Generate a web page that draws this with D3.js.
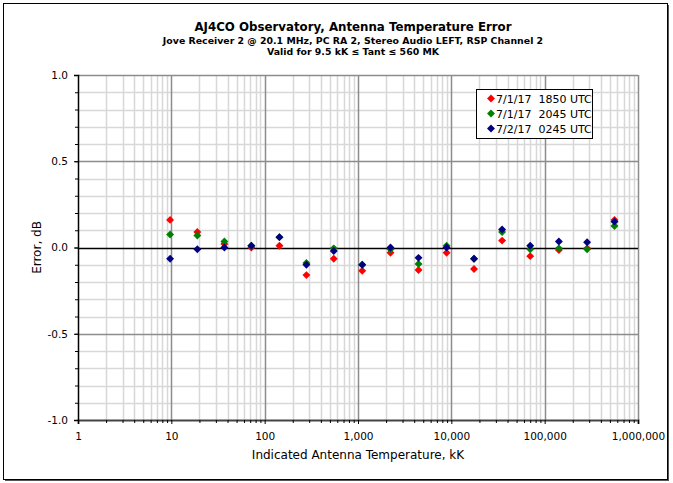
<!DOCTYPE html>
<html>
<head>
<meta charset="utf-8">
<script src="https://cdn.jsdelivr.net/npm/d3@7"></script>
<style>
  body { margin: 0; background: #fff; }
  text { font-family: "DejaVu Sans", Verdana, sans-serif; }
</style>
</head>
<body>
<svg id="chart" width="673" height="483"></svg>
<script>
// temperatures (kK) and errors (dB)
const temps = [9.7, 19, 37, 72, 144, 280, 550, 1110, 2230, 4450, 8900, 17500, 35000, 70000, 142000, 285000, 560000];
const err1850 = [0.16, 0.09, 0.02, 0.00, 0.01, -0.16, -0.065, -0.135, -0.03, -0.13, -0.03, -0.125, 0.04, -0.05, -0.015, -0.005, 0.16];
const err2045 = [0.075, 0.07, 0.035, 0.01, 0.06, -0.09, -0.005, -0.10, -0.01, -0.095, 0.01, -0.065, 0.09, -0.01, -0.005, -0.01, 0.125];
const err0245 = [-0.065, -0.01, 0.00, 0.01, 0.06, -0.10, -0.02, -0.10, 0.00, -0.06, 0.00, -0.065, 0.105, 0.01, 0.035, 0.03, 0.15];
const seriesNames = ["7/1/17  1850 UTC", "7/1/17  2045 UTC", "7/2/17  0245 UTC"];
const colors = ["#ff0000", "#008000", "#000080"];
const xTicks = [1, 10, 100, 1000, 10000, 100000, 1000000];
const yTicks = [-1.0, -0.5, 0.0, 0.5, 1.0];

const svg = d3.select("#chart");
const pLeft = 78, pRight = 638, pTop = 75, pBottom = 420;

var x = d3.scaleLog().domain([1, 1000000]).range([pLeft, pRight]);
var y = d3.scaleLinear().domain([-1, 1]).range([pBottom, pTop]);

// outer frame
svg.append("rect").attr("x", 5).attr("y", 5).attr("width", 664).attr("height", 476).attr("fill", "#555");
svg.append("rect").attr("x", 3.5).attr("y", 3.5).attr("width", 664).attr("height", 476)
  .attr("fill", "#fff").attr("stroke", "#000");

// minor grid
var minorX = [];
for (let e = 0; e < 6; e++) for (let m = 2; m <= 9; m++) minorX.push(m * Math.pow(10, e));
var minorY = d3.range(-10, 11).map((d) => d / 10).filter((d) => Math.abs(d * 2 - Math.round(d * 2)) > 0.01);

const grid = svg.append("g");
grid.selectAll(".mx").data(minorX).join("line")
  .attr("x1", (d) => Math.round(x(d)) + 0.5).attr("x2", (d) => Math.round(x(d)) + 0.5)
  .attr("y1", pTop).attr("y2", pBottom).attr("stroke", "#d8d8d8").attr("stroke-width", 1.5);
grid.selectAll(".my").data(minorY).join("line")
  .attr("y1", (d) => Math.round(y(d)) + 0.5).attr("y2", (d) => Math.round(y(d)) + 0.5)
  .attr("x1", pLeft).attr("x2", pRight).attr("stroke", "#d8d8d8").attr("stroke-width", 1.5);
grid.selectAll(".Mx").data(xTicks.slice(1)).join("line")
  .attr("x1", (d) => Math.round(x(d)) + 0.5).attr("x2", (d) => Math.round(x(d)) + 0.5)
  .attr("y1", pTop).attr("y2", pBottom).attr("stroke", "#8c8c8c").attr("stroke-width", 1.5);
grid.selectAll(".My").data(yTicks.filter((d) => d !== 0 && d !== -1)).join("line")
  .attr("y1", (d) => Math.round(y(d)) + 0.5).attr("y2", (d) => Math.round(y(d)) + 0.5)
  .attr("x1", pLeft).attr("x2", pRight).attr("stroke", "#8c8c8c").attr("stroke-width", 1.5);
// zero line
grid.append("line").attr("x1", pLeft).attr("x2", pRight)
  .attr("y1", Math.round(y(0)) + 0.5).attr("y2", Math.round(y(0)) + 0.5)
  .attr("stroke", "#000").attr("stroke-width", 1.5);

// axes
var xAxis = d3.axisBottom(x).tickValues(xTicks).tickSize(4).tickPadding(9)
  .tickFormat(d3.format(","));
svg.append("g").attr("transform", `translate(0,${pBottom})`).call(xAxis)
  .call((g) => g.select(".domain").attr("stroke", "#444").attr("stroke-width", 2))
  .call((g) => g.selectAll("text").attr("font-size", 10.5).attr("fill", "#000"));
var xMinorAxis = d3.axisBottom(x).tickValues(minorX).tickSize(3).tickFormat("");
svg.append("g").attr("transform", `translate(0,${pBottom})`).call(xMinorAxis)
  .call((g) => g.select(".domain").remove())
  .call((g) => g.selectAll("line").attr("stroke", "#000"));

var yAxis = d3.axisLeft(y).tickValues(yTicks).tickSize(4).tickPadding(6)
  .tickFormat(d3.format(".1f"));
svg.append("g").attr("transform", `translate(${pLeft},0)`).call(yAxis)
  .call((g) => g.select(".domain").attr("stroke", "#000").attr("stroke-width", 1.5))
  .call((g) => g.selectAll("text").attr("font-size", 10.5).attr("fill", "#000")
    .text((d) => d3.format(".1f")(d).replace("−", "-")));
var yMinorAxis = d3.axisLeft(y).tickValues(d3.range(-10, 11).map((d) => d / 10)).tickSize(3).tickFormat("");
svg.append("g").attr("transform", `translate(${pLeft},0)`).call(yMinorAxis)
  .call((g) => g.select(".domain").remove())
  .call((g) => g.selectAll("line").attr("stroke", "#000"));

// points
const series = [err1850, err2045, err0245];
var diamond = d3.symbol().type(d3.symbolDiamond2).size(40);
series.forEach((vals, i) => {
  svg.append("g").selectAll("path")
    .data(vals.map((v, j) => [temps[j], v]))
    .join("path")
    .attr("transform", (d) => `translate(${x(d[0])},${y(d[1])})`)
    .attr("d", diamond)
    .attr("fill", colors[i]);
});

// legend
const legend = svg.append("g").attr("transform", "translate(476,89)");
legend.append("rect").attr("x", 0.5).attr("y", 0.5).attr("width", 116).attr("height", 49)
  .attr("fill", "#fff").attr("stroke", "#000");
var bandScale = d3.scaleBand().domain(seriesNames).range([2, 47]);
legend.selectAll("path").data(seriesNames).join("path")
  .attr("transform", (d) => `translate(15,${bandScale(d) + bandScale.bandwidth() / 2})`)
  .attr("d", diamond).attr("fill", (d, i) => colors[i]);
legend.selectAll("text").data(seriesNames).join("text")
  .attr("x", 20).attr("y", (d) => bandScale(d) + bandScale.bandwidth() / 2 + 4)
  .attr("font-size", 11).style("white-space", "pre")
  .text((d) => d);

// titles
const cx = 353;
svg.append("text").attr("x", cx).attr("y", 31).attr("text-anchor", "middle")
  .attr("font-size", 11.8).attr("font-weight", "bold").text("AJ4CO Observatory, Antenna Temperature Error");
svg.append("text").attr("x", cx).attr("y", 43.5).attr("text-anchor", "middle")
  .attr("font-size", 9.4).attr("font-weight", "bold")
  .text("Jove Receiver 2 @ 20.1 MHz, PC RA 2, Stereo Audio LEFT, RSP Channel 2");
svg.append("text").attr("x", cx).attr("y", 54.5).attr("text-anchor", "middle")
  .attr("font-size", 9.4).attr("font-weight", "bold").text("Valid for 9.5 kK ≤ Tant ≤ 560 MK");

svg.append("text").attr("x", (pLeft + pRight) / 2).attr("y", 459).attr("text-anchor", "middle")
  .attr("font-size", 12).text("Indicated Antenna Temperature, kK");
svg.append("text").attr("transform", `translate(41,${y(0)}) rotate(-90)`).attr("text-anchor", "middle")
  .attr("font-size", 12).text("Error, dB");
</script>
</body>
</html>
